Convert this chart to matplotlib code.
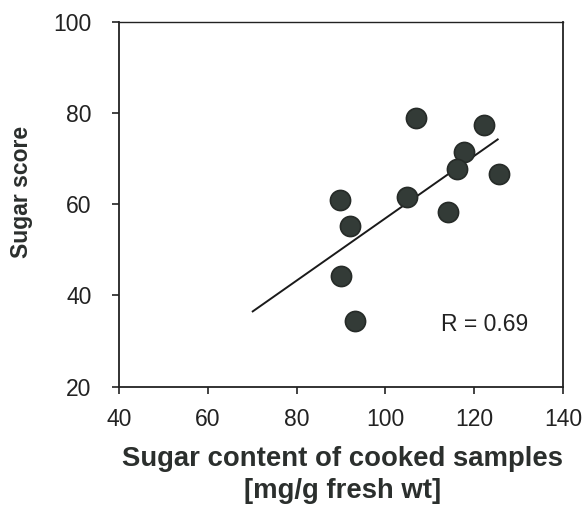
import matplotlib.pyplot as plt

plt.rcParams['font.family'] = ['Liberation Sans', 'DejaVu Sans']

# sugar content (x) and sugar score (y) for each sample
sugar_content = [107.0, 122.2, 117.7, 116.2, 125.5, 89.8, 104.9, 114.2, 92.1, 90.1, 93.2]
sugar_score = [79.0, 77.3, 71.4, 67.8, 66.7, 61.0, 61.5, 58.3, 55.2, 44.3, 34.4]

# regression line end points
fit_x = [70.1, 125.3]
fit_y = [36.5, 74.2]

x_ticks = [40, 60, 80, 100, 120, 140]
y_ticks = [20, 40, 60, 80, 100]

fig = plt.figure(figsize=(5.87, 5.11), dpi=100)
ax = fig.add_axes([0.203, 0.2433, 0.756, 0.7142])

ax.plot(fit_x, fit_y, color='#1a1a1a', linewidth=1.4)
ax.plot(sugar_content, sugar_score, linestyle='none', marker='o',
        markersize=14.5, markerfacecolor='#333b37', markeredgecolor='#262b28',
        markeredgewidth=1.2)

ax.set_xlim(40, 140)
ax.set_ylim(20, 100)
ax.set_xticks(x_ticks)
ax.set_yticks(y_ticks)
ax.tick_params(axis='both', labelsize=16.5, length=5, width=1.2,
               color='#222222', labelcolor='#222222')
ax.tick_params(axis='y', pad=15)
ax.tick_params(axis='x', pad=10)
for s in ax.spines.values():
    s.set_linewidth(1.3)
    s.set_color('#222222')
ax.spines['top'].set_linewidth(1.0)

ax.text(112.5, 33.6, 'R = 0.69', fontsize=16.5, va='center', color='#222222')

fig.text(0.583, 0.071, 'Sugar content of cooked samples\n[mg/g fresh wt]',
         ha='center', va='center', fontsize=19.8, fontweight='bold',
         color='#2b2f2d', linespacing=1.3)
fig.text(0.037, 0.624, 'Sugar score', rotation=90, ha='center', va='center',
         fontsize=16.5, fontweight='bold', color='#2b2f2d')

fig.savefig('out.png', dpi=100)
